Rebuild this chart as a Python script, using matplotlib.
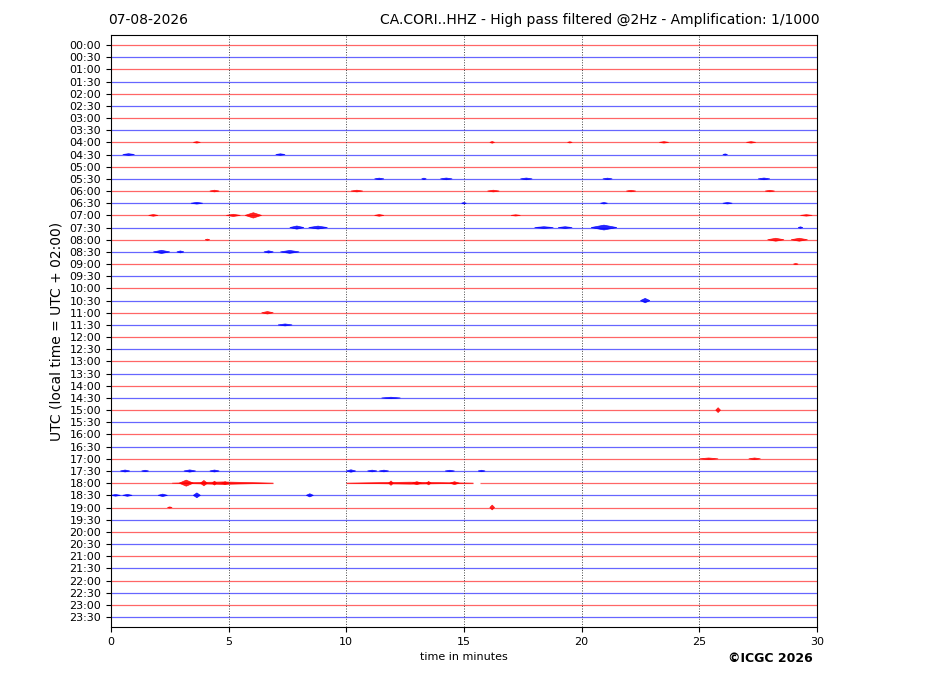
import matplotlib
matplotlib.use("Agg")
import matplotlib.pyplot as plt
import numpy as np

date_label = "07-08-2026"
station_title = "CA.CORI..HHZ - High pass filtered @2Hz - Amplification: 1/1000"
row_labels = [f"{h:02d}:{m:02d}" for h in range(24) for m in (0, 30)]
minutes_span = 30

# seismic bursts: (row, start minute, end minute, half amplitude in row units)
events = [
    (8, 3.5, 3.8, 0.06), (8, 16.1, 16.3, 0.07), (8, 19.4, 19.6, 0.05),
    (8, 23.3, 23.7, 0.06), (8, 27.0, 27.4, 0.06),
    (9, 0.5, 1.0, 0.07), (9, 7.0, 7.4, 0.06), (9, 26.0, 26.2, 0.05),
    (11, 11.2, 11.6, 0.06), (11, 13.2, 13.4, 0.06), (11, 14.0, 14.5, 0.07),
    (11, 17.4, 17.9, 0.07), (11, 20.9, 21.3, 0.06), (11, 27.5, 28.0, 0.07),
    (12, 4.2, 4.6, 0.07), (12, 10.2, 10.7, 0.07), (12, 16.0, 16.5, 0.07),
    (12, 21.9, 22.3, 0.06), (12, 27.8, 28.2, 0.06),
    (13, 3.4, 3.9, 0.07), (13, 14.9, 15.1, 0.06), (13, 20.8, 21.1, 0.06),
    (13, 26.0, 26.4, 0.06),
    (14, 1.6, 2.0, 0.07), (14, 4.9, 5.5, 0.09), (14, 5.7, 6.4, 0.22),
    (14, 11.2, 11.6, 0.07), (14, 17.0, 17.4, 0.05), (14, 29.3, 29.8, 0.06),
    (15, 7.6, 8.2, 0.13), (15, 8.4, 9.2, 0.12), (15, 18.0, 18.8, 0.07),
    (15, 19.0, 19.6, 0.07), (15, 20.4, 21.5, 0.2), (15, 29.2, 29.4, 0.06),
    (16, 4.0, 4.2, 0.05), (16, 27.9, 28.6, 0.12), (16, 28.9, 29.6, 0.12),
    (17, 1.8, 2.5, 0.13), (17, 2.8, 3.1, 0.08), (17, 6.5, 6.9, 0.09),
    (17, 7.2, 8.0, 0.12),
    (18, 29.0, 29.2, 0.05),
    (21, 22.5, 22.9, 0.18),
    (22, 6.4, 6.9, 0.1),
    (23, 7.1, 7.7, 0.08),
    (29, 11.5, 12.3, 0.06),
    (30, 25.7, 25.9, 0.2),
    (34, 25.0, 25.8, 0.07), (34, 27.1, 27.6, 0.07),
    (35, 0.4, 0.8, 0.08), (35, 1.3, 1.6, 0.06), (35, 3.1, 3.6, 0.09),
    (35, 4.2, 4.6, 0.08), (35, 10.0, 10.4, 0.1), (35, 10.9, 11.3, 0.07),
    (35, 11.4, 11.8, 0.07), (35, 14.2, 14.6, 0.06), (35, 15.6, 15.9, 0.06),
    (36, 2.6, 6.9, 0.1), (36, 2.9, 3.5, 0.25), (36, 3.8, 4.1, 0.22),
    (36, 4.3, 4.5, 0.16), (36, 4.7, 5.0, 0.12), (36, 10.0, 15.4, 0.08),
    (36, 11.8, 12.0, 0.18), (36, 12.8, 13.2, 0.12), (36, 13.4, 13.6, 0.14),
    (36, 14.4, 14.8, 0.12),
    (37, 0.0, 0.4, 0.07), (37, 0.5, 0.9, 0.08), (37, 2.0, 2.4, 0.1),
    (37, 3.5, 3.8, 0.2), (37, 8.3, 8.6, 0.13),
    (38, 2.4, 2.6, 0.05), (38, 16.1, 16.3, 0.2),
]

# missing data: (row, start minute, end minute)
gaps = [(36, 6.9, 10.0), (36, 15.4, 15.7)]

row_colors = ["red", "blue"]

fig = plt.figure(figsize=(9.27, 6.96), dpi=100)
ax = fig.add_axes([0.1197, 0.0991, 0.7616, 0.8506])

n_rows = len(row_labels)
for row in range(n_rows):
    color = row_colors[row % 2]
    # baseline segments, skipping gaps
    edges = [0.0]
    for g_row, g0, g1 in gaps:
        if g_row == row:
            edges += [g0, g1]
    edges.append(minutes_span)
    for i in range(0, len(edges), 2):
        ax.plot([edges[i], edges[i + 1]], [row, row], color=color,
                lw=0.9, alpha=0.6, solid_capstyle="butt")

for row, t0, t1, amp in events:
    color = row_colors[row % 2]
    tc = 0.5 * (t0 + t1)
    ax.fill([t0, tc, t1, tc], [row, row - amp, row, row + amp],
            color=color, lw=0.5, alpha=0.85)

ax.set_xlim(0, minutes_span)
ax.set_ylim(n_rows - 1 + 0.82, -0.82)
ax.set_xticks(np.arange(0, minutes_span + 1, 5))
ax.set_yticks(np.arange(n_rows))
ax.set_yticklabels(row_labels)
ax.tick_params(axis="both", labelsize=8)
for x in range(5, minutes_span, 5):
    ax.axvline(x, color="#444444", lw=0.7, ls=":")

ax.set_xlabel("time in minutes", fontsize=8)
ax.set_ylabel("UTC (local time = UTC + 02:00)", fontsize=10)

fig.text(108 / 927, 1 - 20 / 696, date_label, fontsize=10, ha="left", va="center")
fig.text(820 / 927, 1 - 20 / 696, station_title, fontsize=10, ha="right", va="center")
fig.text(770 / 927, 1 - 658 / 696, "\u00a9ICGC 2026", fontsize=9,
         fontweight="bold", ha="center", va="center")

fig.savefig("out.png", dpi=100)
